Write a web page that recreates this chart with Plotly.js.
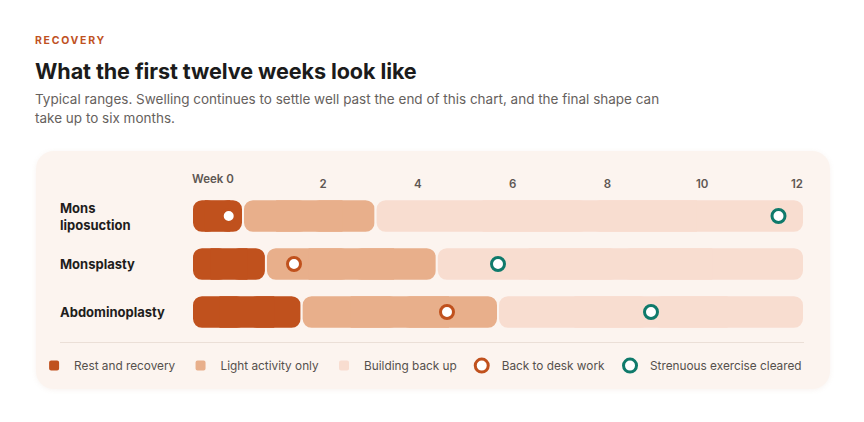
<!DOCTYPE html>
<html>
<head>
<meta charset="utf-8">
<script src="https://cdn.plot.ly/plotly-3.0.1.min.js"></script>
<style>
  html, body { margin:0; padding:0; background:#ffffff; }
  body { width:864px; height:422px; position:relative; overflow:hidden; font-family: Inter, "Noto Sans", sans-serif; }
  #card { position:absolute; left:36px; top:151px; width:794px; height:238px; background:#FCF4EF; border-radius:18px; box-shadow:0 1px 5px rgba(190,140,110,0.10); }
  #divider { position:absolute; left:60px; top:342px; width:744px; height:1px; background:#EBDFD7; }
  #eyebrow { position:absolute; left:35px; top:34px; font-weight:700; font-size:10.5px; letter-spacing:1.7px; color:#C0521F; }
  #title { position:absolute; left:35px; top:58px; font-weight:700; font-size:21.6px; color:#1b1b1b; letter-spacing:-0.1px; }
  #sub { position:absolute; left:35px; top:90px; width:640px; font-weight:400; font-size:13.5px; line-height:19px; color:#66615d; }
  #chart { position:absolute; left:0; top:0; width:864px; height:422px; }
</style>
</head>
<body>
<div id="card"></div>
<div id="divider"></div>
<div id="eyebrow">RECOVERY</div>
<div id="title">What the first twelve weeks look like</div>
<div id="sub">Typical ranges. Swelling continues to settle well past the end of this chart, and the final shape can take up to six months.</div>
<div id="chart"></div>
<script>
// ---- data (weeks after surgery) ----
const procedures   = ["Mons<br>liposuction", "Monsplasty", "Abdominoplasty"];
const restEnd      = [1.0, 1.45, 2.15];   // end of "Rest and recovery"
const lightEnd     = [3.6, 4.8, 6.0];     // end of "Light activity only"
const chartEnd     = [12, 12, 12];        // "Building back up" runs to end of chart
const deskWork     = [0.72, 2.0, 5.0];    // "Back to desk work"
const strenuous    = [11.5, 6.0, 9.0];    // "Strenuous exercise cleared"
const weekTicks    = [2, 4, 6, 8, 10, 12];
const weekTickText = ["2", "4", "6", "8", "10", "12"];
const firstTickLabel = "Week 0";

// ---- style ----
const C_REST = "#C0511D", C_LIGHT = "#E8AF8B", C_BUILD = "#F8DDD0";
const C_DESK = "#C0511D", C_TEAL = "#0F7A6B", CARD = "#FCF4EF";
const FONT = "Inter, 'Noto Sans', sans-serif";
const BAR_W = 0.7, ROW_PX = 48, GAP_PX = 2, RADIUS = 10;

// each phase = two halves (each rounded at its outer end) + a flat middle patch
function phaseTraces(name, color, starts, ends) {
  const mid  = starts.map((s, i) => (s + ends[i]) / 2);
  const half = starts.map((s, i) => (ends[i] - s) / 2);
  const common = { type: "bar", orientation: "h", y: procedures, hoverinfo: "skip", legendgroup: name, name: name };
  const right = Object.assign({}, common, {
    base: mid, x: half, width: BAR_W, showlegend: true,
    marker: { color: color, cornerradius: RADIUS, line: { color: CARD, width: GAP_PX } }
  });
  const left = Object.assign({}, common, {
    base: mid, x: half.map(h => -h), width: BAR_W, showlegend: false,
    marker: { color: color, cornerradius: RADIUS, line: { color: CARD, width: GAP_PX } }
  });
  const patch = Object.assign({}, common, {
    base: starts.map((s, i) => s + half[i] / 2), x: half, width: BAR_W - GAP_PX / ROW_PX, showlegend: false,
    marker: { color: color, cornerradius: 0, line: { width: 0 } }
  });
  return [right, left, patch];
}

const restTr  = phaseTraces("Rest and recovery", C_REST, restEnd.map(() => 0), restEnd);
const lightTr = phaseTraces("Light activity only", C_LIGHT, restEnd, lightEnd);
const buildTr = phaseTraces("Building back up", C_BUILD, lightEnd, chartEnd);

const desk = {
  type: "scatter", mode: "markers", name: "Back to desk work",
  x: deskWork, y: procedures, hoverinfo: "skip",
  marker: { symbol: "circle", size: 13, color: "#ffffff", line: { color: C_DESK, width: 3 } }
};
const teal = {
  type: "scatter", mode: "markers", name: "Strenuous exercise cleared",
  x: strenuous, y: procedures, hoverinfo: "skip",
  marker: { symbol: "circle", size: 13, color: "#ffffff", line: { color: C_TEAL, width: 3 } }
};
const tickHolder = { type: "scatter", x: [], y: [], xaxis: "x2", showlegend: false, hoverinfo: "skip" };

const L = 192, R = 60, W = 864;
const plotW = W - L - R;
const labelX = (58 - L) / plotW;

const annotations = procedures.map(p => ({
  xref: "paper", x: labelX, xanchor: "left", y: p, yref: "y",
  text: p, showarrow: false, align: "left",
  font: { family: FONT, size: 13, color: "#1f1d1c", weight: 700 }
}));
annotations.push({
  xref: "x", x: 0, xanchor: "left", xshift: -2, yref: "paper", y: 1, yanchor: "bottom", yshift: 4,
  text: firstTickLabel, showarrow: false,
  font: { family: FONT, size: 11.5, color: "#5e5753", weight: 600 }
});

const layout = {
  width: 864, height: 422,
  margin: { l: L, r: R, t: 192, b: 86, pad: 0 },
  paper_bgcolor: "rgba(0,0,0,0)", plot_bgcolor: "rgba(0,0,0,0)",
  barmode: "overlay", showlegend: true,
  xaxis: { range: [0, 12], visible: false, fixedrange: true },
  xaxis2: {
    overlaying: "x", side: "top", range: [-0.764, 12.148],
    tickvals: weekTicks, ticktext: weekTickText, ticks: "",
    showgrid: false, zeroline: false, showline: false, ticklabelstandoff: 1,
    tickfont: { family: FONT, size: 11.5, color: "#5e5753", weight: 600 }
  },
  yaxis: {
    type: "category", categoryorder: "array", categoryarray: procedures,
    range: [2.5, -0.5], showticklabels: false, showgrid: false, zeroline: false, fixedrange: true
  },
  legend: {
    orientation: "h", x: -0.258, xanchor: "left", y: -0.105, yanchor: "top",
    bgcolor: "rgba(0,0,0,0)", itemclick: false, itemdoubleclick: false,
    font: { family: FONT, size: 11.8, color: "#55504c" },
    itemwidth: 30, traceorder: "normal"
  },
  annotations: annotations,
  hovermode: false
};

Plotly.newPlot("chart", [...restTr, ...lightTr, ...buildTr, desk, teal, tickHolder], layout, { staticPlot: true, displayModeBar: false });
</script>
</body>
</html>
